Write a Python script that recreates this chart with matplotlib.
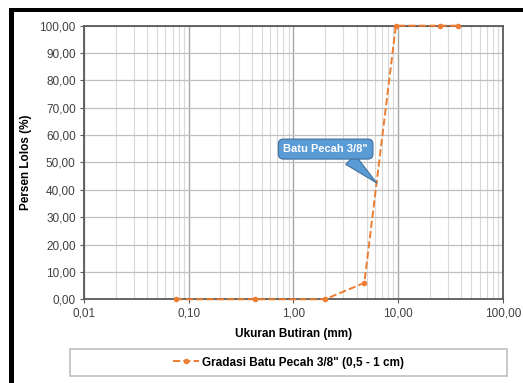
import matplotlib.pyplot as plt
from matplotlib.patches import Rectangle
from matplotlib.ticker import FixedLocator, FuncFormatter, LogLocator, NullFormatter

plt.rcParams['font.family'] = ['Liberation Sans', 'DejaVu Sans']

# sieve sizes (mm) and percent passing
ukuran = [0.075, 0.425, 2.0, 4.75, 9.5, 25.0, 37.5]
lolos = [0.0, 0.0, 0.0, 6.0, 100.0, 100.0, 100.0]
x_ticks = [0.01, 0.1, 1, 10, 100]
y_ticks = [0, 10, 20, 30, 40, 50, 60, 70, 80, 90, 100]
seri_label = 'Gradasi Batu Pecah 3/8" (0,5 - 1 cm)'
callout = 'Batu Pecah 3/8"'

orange = '#ED7D31'


def koma(v, pos=None):
    return f'{v:.2f}'.replace('.', ',')


fig = plt.figure(figsize=(5.23, 3.83), dpi=100)
ax = fig.add_axes([0.1606, 0.2185, 0.801, 0.7145])

line, = ax.plot(ukuran, lolos, '--', color=orange, lw=1.4, marker='o', markersize=3,
                label=seri_label, clip_on=False, zorder=5)

ax.set_xscale('log')
ax.set_xlim(0.01, 100)
ax.set_ylim(0, 100)
ax.xaxis.set_major_locator(FixedLocator(x_ticks))
ax.xaxis.set_minor_locator(LogLocator(base=10, subs=range(2, 10)))
ax.xaxis.set_minor_formatter(NullFormatter())
ax.xaxis.set_major_formatter(FuncFormatter(koma))
ax.set_yticks(y_ticks)
ax.yaxis.set_major_formatter(FuncFormatter(koma))

ax.grid(True, which='major', axis='x', color='#A6A6A6', lw=1.0)
ax.grid(True, which='minor', axis='x', color='#D9D9D9', lw=0.8)
ax.grid(True, which='major', axis='y', color='#BFBFBF', lw=0.9)
ax.set_axisbelow(True)

for s in ax.spines.values():
    s.set_color('#595959')
    s.set_linewidth(1.3)

ax.tick_params(which='major', length=3, color='#595959', labelsize=8.5,
               labelcolor='#404040', pad=3)
ax.tick_params(which='minor', length=0)

ax.set_xlabel('Ukuran Butiran (mm)', fontsize=8.5, fontweight='bold', labelpad=6)
ax.set_ylabel('Persen Lolos (%)', fontsize=8.5, fontweight='bold', labelpad=5)

# callout
ax.annotate(callout, xy=(6.25, 42.5), xytext=(2.03, 54.9),
            ha='center', va='center', fontsize=8, fontweight='bold', color='white',
            bbox=dict(boxstyle='round,pad=0.45', fc='#5B9BD5', ec='#41719C', lw=0.8),
            arrowprops=dict(arrowstyle='wedge,tail_width=1.2,shrink_factor=0.5',
                            fc='#5B9BD5', ec='#41719C', lw=0.8, relpos=(0.72, 0.0),
                            shrinkA=0, shrinkB=0),
            zorder=6)

# legend box
leg = fig.legend(handles=[line], loc='center', bbox_to_anchor=(0.134, 0.018, 0.836, 0.0705),
                 frameon=False, prop=dict(weight='bold', size=8.5),
                 handlelength=2.2, handletextpad=0.3)
fig.patches.append(Rectangle((0.134, 0.018), 0.836, 0.0705, transform=fig.transFigure,
                             fill=False, ec='#BFBFBF', lw=1.2))

# black frame along top and left
fig.patches.append(Rectangle((9 / 523, 0), 5 / 523, 1 - 8 / 383, transform=fig.transFigure,
                             fc='black', ec='none'))
fig.patches.append(Rectangle((9 / 523, 1 - 12 / 383), 1 - 9 / 523, 4 / 383,
                             transform=fig.transFigure, fc='black', ec='none'))

fig.savefig('out.png', dpi=100)
